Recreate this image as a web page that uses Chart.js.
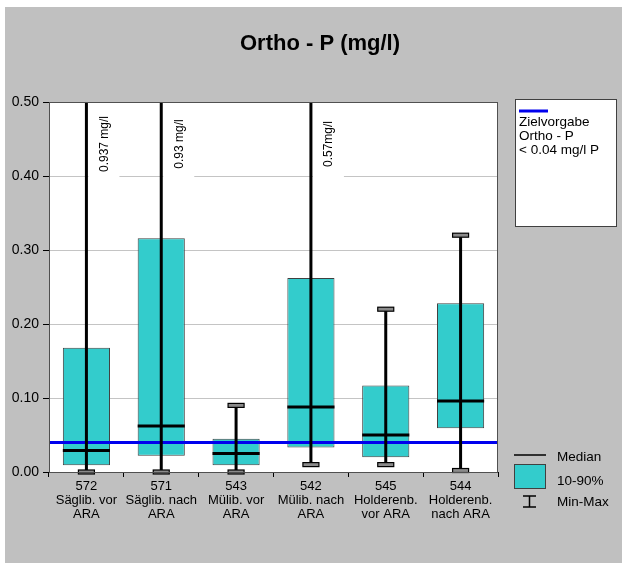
<!DOCTYPE html>
<html>
<head>
<meta charset="utf-8">
<script src="https://cdn.jsdelivr.net/npm/chart.js@4.4.1/dist/chart.umd.min.js"></script>
<style>
    html, body { margin: 0; padding: 0; background: #ffffff; }
    #wrap { width: 622px; height: 563px; }
</style>
</head>
<body>
<div id="wrap"><canvas id="chart" width="622" height="563"></canvas></div>
<script>
// Ortho-P per sampling station
const stations = [
    ['572', 'Säglib. vor', 'ARA'],
    ['571', 'Säglib. nach', 'ARA'],
    ['543', 'Mülib. vor', 'ARA'],
    ['542', 'Mülib. nach', 'ARA'],
    ['545', 'Holderenb.', 'vor ARA'],
    ['544', 'Holderenb.', 'nach ARA'],
];
const minVals = [0.0, 0.0, 0.0, 0.01, 0.01, 0.002];
const p10Vals = [0.009, 0.022, 0.009, 0.033, 0.02, 0.059];
const medianVals = [0.029, 0.062, 0.025, 0.088, 0.05, 0.096];
const p90Vals = [0.168, 0.316, 0.045, 0.262, 0.117, 0.228];
const maxVals = [0.937, 0.93, 0.09, 0.57, 0.22, 0.32];
// printed next to whiskers that leave the plot
const maxLabels = ['0.937 mg/l', '0.93 mg/l', '', '0.57mg/l', '', ''];
const targetValue = 0.04;
const yTicks = [0, 0.1, 0.2, 0.3, 0.4, 0.5];

const FONT = "'Liberation Sans', Arial, sans-serif";

const boxPlotPlugin = {
    id: 'boxPlot',
    beforeDraw(chart) {
        const { ctx, width, height, chartArea } = chart;
        ctx.save();
        ctx.fillStyle = '#ffffff';
        ctx.fillRect(0, 0, width, height);
        ctx.fillStyle = '#c0c0c0';
        ctx.fillRect(5, 7, width - 5, height - 7);
        ctx.fillStyle = '#ffffff';
        ctx.fillRect(chartArea.left, chartArea.top, chartArea.right - chartArea.left, chartArea.bottom - chartArea.top);
        ctx.restore();
    },
    afterDatasetsDraw(chart) {
        const { ctx, chartArea } = chart;
        const x = chart.scales.x;
        const y = chart.scales.y;
        const yMaxScale = y.max;
        ctx.save();

        // white patches behind the off-scale labels
        maxVals.forEach((v, i) => {
            if (v > yMaxScale && maxLabels[i]) {
                const px = x.getPixelForValue(i);
                ctx.fillStyle = '#ffffff';
                ctx.fillRect(px + 2, chartArea.top + 4, 31, 80);
            }
        });

        // target line
        const ty = y.getPixelForValue(targetValue);
        ctx.strokeStyle = '#0000ee';
        ctx.lineWidth = 3;
        ctx.beginPath();
        ctx.moveTo(chartArea.left, ty);
        ctx.lineTo(chartArea.right, ty);
        ctx.stroke();

        const meta = chart.getDatasetMeta(0);
        stations.forEach((s, i) => {
            const px = x.getPixelForValue(i);
            const boxW = meta.data[i].width;
            const yLo = y.getPixelForValue(minVals[i]);
            const yHi = y.getPixelForValue(Math.min(maxVals[i], yMaxScale));

            // whisker
            ctx.strokeStyle = '#000000';
            ctx.lineWidth = 3;
            ctx.beginPath();
            ctx.moveTo(px, yLo);
            ctx.lineTo(px, maxVals[i] > yMaxScale ? chartArea.top : yHi);
            ctx.stroke();

            // median
            const ym = y.getPixelForValue(medianVals[i]);
            ctx.beginPath();
            ctx.moveTo(px - boxW / 2, ym);
            ctx.lineTo(px + boxW / 2, ym);
            ctx.stroke();

            // caps
            ctx.lineWidth = 1.2;
            ctx.fillStyle = '#8a8a8a';
            const caps = [yLo];
            if (maxVals[i] <= yMaxScale) caps.push(yHi);
            caps.forEach((cy) => {
                ctx.fillRect(px - 8, cy - 2, 16, 4);
                ctx.strokeRect(px - 8, cy - 2, 16, 4);
            });

            // value of whiskers running off the top
            if (maxVals[i] > yMaxScale && maxLabels[i]) {
                ctx.save();
                ctx.translate(px + 18, chartArea.top + 42);
                ctx.rotate(-Math.PI / 2);
                ctx.fillStyle = '#000000';
                ctx.font = '12px ' + FONT;
                ctx.textAlign = 'center';
                ctx.textBaseline = 'middle';
                ctx.fillText(maxLabels[i], 0, 0);
                ctx.restore();
            }
        });

        // plot frame
        ctx.lineWidth = 1;
        ctx.strokeStyle = '#505050';
        ctx.strokeRect(chartArea.left + 0.5, chartArea.top + 0.5, chartArea.right - chartArea.left - 1, chartArea.bottom - chartArea.top);
        ctx.restore();
    },
    afterDraw(chart) {
        const { ctx } = chart;
        ctx.save();
        ctx.fillStyle = '#000000';

        // title
        ctx.font = 'bold 22px ' + FONT;
        ctx.textAlign = 'center';
        ctx.textBaseline = 'alphabetic';
        ctx.fillText('Ortho - P (mg/l)', 320, 50);

        // target legend box
        ctx.fillStyle = '#ffffff';
        ctx.fillRect(515, 99, 102, 128);
        ctx.strokeStyle = '#404040';
        ctx.lineWidth = 1;
        ctx.strokeRect(515.5, 99.5, 101, 127);
        ctx.strokeStyle = '#0000ee';
        ctx.lineWidth = 3;
        ctx.beginPath();
        ctx.moveTo(519, 111);
        ctx.lineTo(548, 111);
        ctx.stroke();
        ctx.fillStyle = '#000000';
        ctx.font = '13.5px ' + FONT;
        ctx.textAlign = 'left';
        ctx.fillText('Zielvorgabe', 519, 126);
        ctx.fillText('Ortho - P', 519, 140);
        ctx.fillText('< 0.04 mg/l P', 519, 154);

        // symbol legend
        ctx.strokeStyle = '#000000';
        ctx.lineWidth = 1.5;
        ctx.beginPath();
        ctx.moveTo(514, 455);
        ctx.lineTo(546, 455);
        ctx.stroke();
        ctx.fillStyle = '#33cccc';
        ctx.fillRect(514, 464, 32, 24);
        ctx.strokeStyle = '#404040';
        ctx.lineWidth = 1;
        ctx.strokeRect(514.5, 464.5, 31, 24);
        ctx.strokeStyle = '#000000';
        ctx.lineWidth = 1.5;
        ctx.beginPath();
        ctx.moveTo(523, 496);
        ctx.lineTo(536, 496);
        ctx.moveTo(529.5, 496);
        ctx.lineTo(529.5, 507);
        ctx.moveTo(523, 507);
        ctx.lineTo(536, 507);
        ctx.stroke();
        ctx.fillStyle = '#000000';
        ctx.font = '13.5px ' + FONT;
        ctx.textBaseline = 'middle';
        ctx.fillText('Median', 557, 457);
        ctx.fillText('10-90%', 557, 481);
        ctx.fillText('Min-Max', 557, 502);
        ctx.restore();
    },
};

new Chart(document.getElementById('chart'), {
    type: 'bar',
    data: {
        labels: stations,
        datasets: [
            {
                label: '10-90%',
                data: p10Vals.map((lo, i) => [lo, p90Vals[i]]),
                backgroundColor: '#33cccc',
                borderColor: '#404040',
                borderWidth: 1,
                borderSkipped: false,
                categoryPercentage: 1,
                barPercentage: 0.63,
            },
        ],
    },
    options: {
        responsive: false,
        animation: false,
        events: [],
        layout: {
            padding: { left: 5, top: 102, right: 124, bottom: 31 },
        },
        plugins: {
            legend: { display: false },
            tooltip: { enabled: false },
            title: { display: false },
        },
        scales: {
            x: {
                afterFit: (s) => { s.height = 60; },
                border: { display: true, color: '#000000', width: 1 },
                grid: {
                    drawOnChartArea: false,
                    drawTicks: true,
                    tickLength: 5,
                    color: '#000000',
                },
                ticks: {
                    color: '#000000',
                    padding: 2,
                    maxRotation: 0,
                    autoSkip: false,
                    font: { family: FONT, size: 13, lineHeight: 1.1 },
                },
            },
            y: {
                min: 0,
                max: 0.5,
                afterFit: (s) => { s.width = 44; },
                afterBuildTicks: (s) => { s.ticks = yTicks.map((v) => ({ value: v })); },
                border: { display: true, color: '#000000', width: 1 },
                grid: {
                    color: '#c4c4c4',
                    tickLength: 6,
                    tickColor: '#000000',
                },
                ticks: {
                    color: '#000000',
                    padding: 4,
                    font: { family: FONT, size: 14 },
                    callback: (v) => Number(v).toFixed(2),
                },
            },
        },
    },
    plugins: [boxPlotPlugin],
});
</script>
</body>
</html>
